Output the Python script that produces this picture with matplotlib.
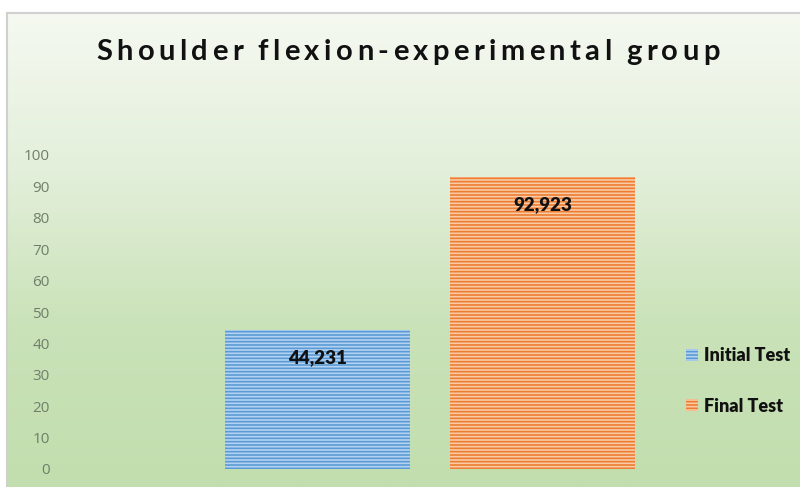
import numpy as np
import matplotlib
matplotlib.use('Agg')
from matplotlib import pyplot as plt, colors

# data
series = ['Initial Test', 'Final Test']
values = [44.231, 92.923]
value_labels = ['44,231', '92,923']
face_colors = ['#b4d3f2', '#f9cba6']
line_colors = ['#5b9bd5', '#ed7d31']
y_ticks = [0, 10, 20, 30, 40, 50, 60, 70, 80, 90, 100]
title = 'Shoulder flexion-experimental group'

W, H = 800, 487
plt.rcParams['hatch.linewidth'] = 1.2
fig = plt.figure(figsize=(W / 100, H / 100), dpi=100)
fig.patch.set_facecolor('white')

# chart area background: green vertical gradient with thin gray frame
bg = fig.add_axes([7 / W, 0, 1 - 7 / W, 1 - 13 / H])
grad = colors.LinearSegmentedColormap.from_list(
    'bg', ['#f5f9f1', '#e3efda', '#c9e2b8', '#c2deae'])
bg.imshow(np.linspace(0, 1, 256).reshape(-1, 1), aspect='auto',
          cmap=grad, extent=[0, 1, 0, 1])
bg.set_xlim(0, 1)
bg.set_ylim(0, 1)
for side in ['top', 'left']:
    bg.spines[side].set_color('#d0d0d0')
    bg.spines[side].set_linewidth(1.5)
for side in ['right', 'bottom']:
    bg.spines[side].set_visible(False)
bg.set_xticks([])
bg.set_yticks([])

# plot area in pixels
left, right, bottom, top = 65, 795, H - 469, H - 155
ax = fig.add_axes([left / W, bottom / H, (right - left) / W, (top - bottom) / H])
ax.patch.set_alpha(0)
ax.set_xlim(-0.5, 0.5)
ax.set_ylim(0, 100)

width = 0.2534
offsets = [-0.1545, 0.1545]
for name, val, lab, fc, lc, off in zip(series, values, value_labels,
                                       face_colors, line_colors, offsets):
    ax.bar(off, val, width=width, color=fc, edgecolor=lc, hatch='-----',
           linewidth=0, label=name)
    ax.annotate(lab, (off, val), xytext=(0, -27), textcoords='offset pixels',
                ha='center', va='center', fontsize=13.5, fontweight='heavy',
                color='#111111', family='Lato')

ax.set_yticks(y_ticks)
ax.set_yticklabels([str(t) for t in y_ticks], fontsize=11, color='#6f7f6a',
                   family='Open Sans')
ax.tick_params(axis='y', length=0, pad=11)
ax.set_xticks([])
for s in ax.spines.values():
    s.set_visible(False)

# title with letter spacing (Excel style)
renderer = fig.canvas.get_renderer()
tracking = 4.4
pieces = []
total = 0
for ch in title:
    t = fig.text(0, 1 - 52 / H, ch, ha='left', va='center', fontsize=21,
                 fontweight='bold', color='#111111', family='Lato')
    w = t.get_window_extent(renderer).width if ch != ' ' else 6
    pieces.append((t, w))
    total += w + tracking
total -= tracking
x = 408 - total / 2
for t, w in pieces:
    t.set_x(x / W)
    x += w + tracking

handles, labels = ax.get_legend_handles_labels()
leg = fig.legend(handles, labels, loc='upper left',
                 bbox_to_anchor=(670 / W, 1 - 331 / H), frameon=False,
                 prop={'family': 'Lato', 'weight': 'heavy', 'size': 13},
                 handlelength=0.65, handleheight=0.65, handletextpad=0.35,
                 labelspacing=1.85)
for t in leg.get_texts():
    t.set_color('#111111')

fig.savefig('out.png', dpi=100)
